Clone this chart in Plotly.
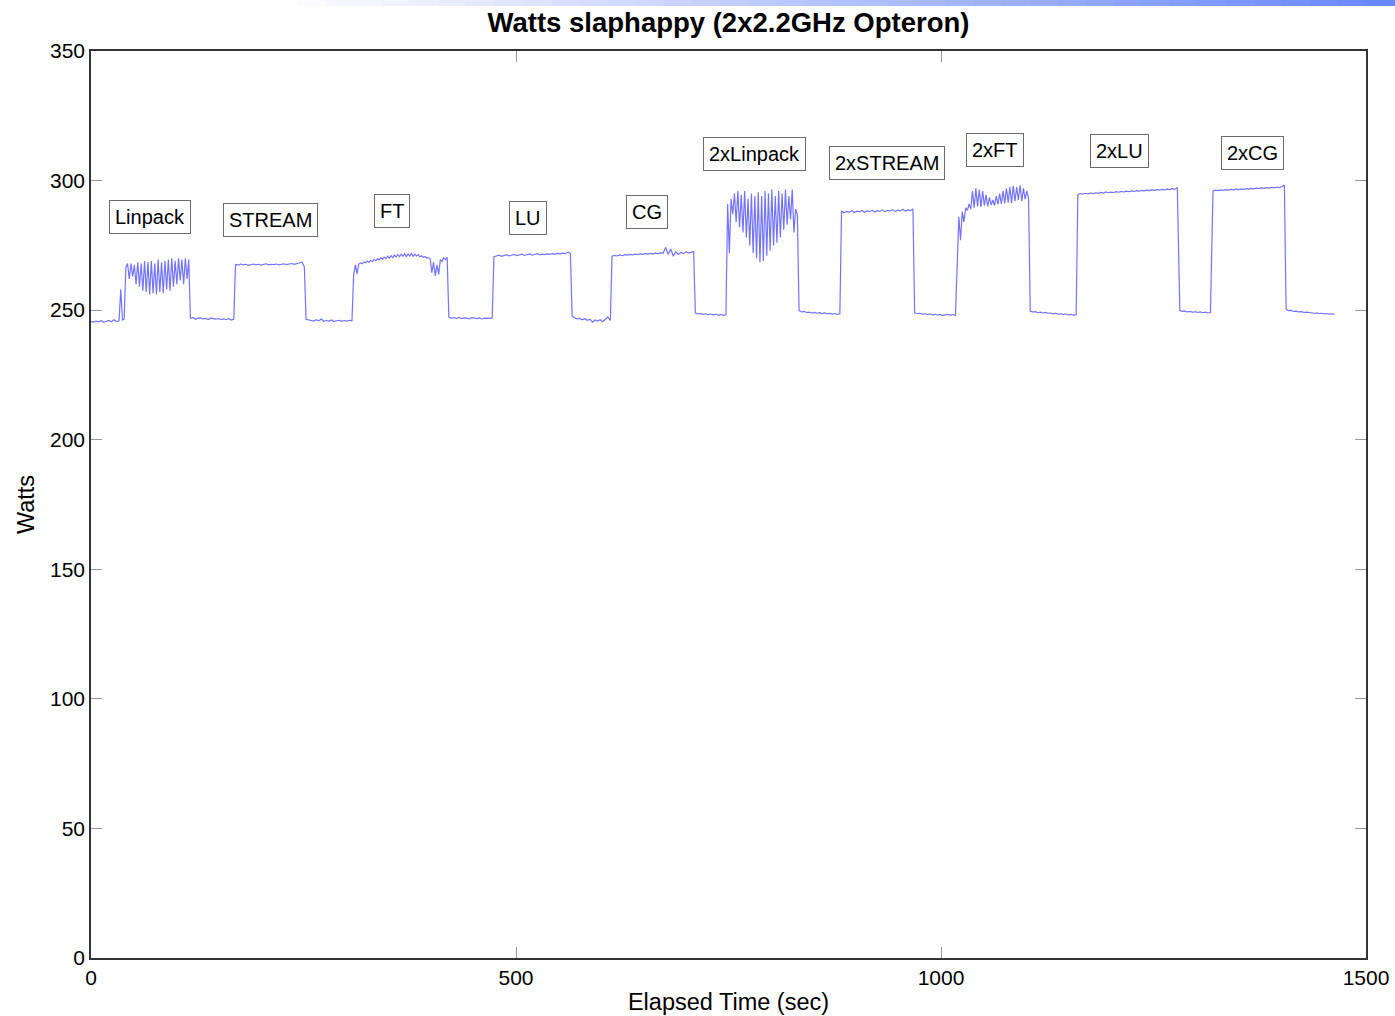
import plotly.graph_objects as go

# ---- data: power samples per phase (start time s, sample step s, watts) ----
idle0_start, idle0_step = 0, 3
idle0 = [245.6, 245.4, 245.8, 245.5, 245.9, 245.3, 245.7, 246.0, 245.5, 246.3, 245.6, 245.8]

linpack_start, linpack_step = 35, 2
linpack = [258, 246.2, 246.5,
           266.5, 268, 262, 268, 263, 267.5, 260, 268.5, 259, 268, 257.5, 269, 257, 268.5, 256,
           269, 256.5, 268, 256, 269.5, 257, 268.5, 256.5, 269, 258, 269.5, 257.5, 270, 259,
           269, 260, 270, 261.5, 269.5, 260, 270, 262, 269.5]

idle1_start, idle1_step = 117, 3
idle1 = [246.8, 247.2, 246.5, 246.9, 247.0, 246.6, 246.8, 246.4, 246.9, 246.7, 246.5, 246.8,
         246.3, 246.6, 246.4, 246.7, 246.2, 246.5]

stream_start, stream_step = 170, 3
stream = [267.6, 267.4, 267.8, 267.5, 267.7, 267.3, 267.6, 267.8, 267.5, 267.7, 267.4, 267.6,
          267.9, 267.5, 267.7, 267.6, 267.8, 267.5, 267.7, 267.9, 267.6, 267.8, 268.0, 267.7,
          267.9, 268.2, 268.6, 266.8]

idle2_start, idle2_step = 253, 3
idle2 = [246.5, 246.2, 246.0, 245.8, 246.3, 245.9, 246.6, 245.7, 246.0, 245.8, 246.2, 245.6,
         245.9, 246.1, 245.7, 246.0, 245.8, 246.1, 245.9]

ft_start, ft_step = 309, 2
ft = [263.5, 267.5, 264, 267.8, 268.2, 267.9, 268.6, 268.3, 268.9, 268.5, 269.2, 268.8, 269.5,
      269.1, 269.8, 269.4, 270.2, 269.6, 270.5, 269.9, 270.8, 270.1, 271.0, 270.3, 271.3, 270.5,
      271.5, 270.6, 271.6, 270.8, 271.8, 270.7, 271.7, 270.9, 271.9, 270.8, 271.6, 270.9, 271.4,
      270.6, 271.0, 270.4, 270.7, 270.1, 270.3, 269.8, 264.5, 268.5, 263.2, 267.5, 263.8, 269.5,
      268.8, 270.2, 269.5, 270.4]

idle3_start, idle3_step = 421, 3
idle3 = [247.3, 246.9, 247.1, 246.8, 247.2, 246.7, 247.0, 246.9, 246.6, 247.1, 246.8, 246.7,
         247.0, 246.6, 246.9, 246.7, 246.8, 247.0]

lu_start, lu_step = 474, 3
lu = [270.6, 270.9, 271.2, 270.8, 271.1, 271.4, 270.9, 271.2, 271.5, 271.0, 271.3, 271.6, 271.1,
      271.4, 271.7, 271.2, 271.5, 271.8, 271.3, 271.6, 271.4, 271.7, 271.5, 271.8, 271.6, 271.9,
      271.7, 272.0, 271.8, 272.4, 271.9]

idle4_start, idle4_step = 566, 3
idle4 = [247.8, 247.0, 246.6, 246.8, 246.3, 246.7, 246.1, 246.5, 245.4, 246.2, 245.8, 246.3,
         245.5, 246.4, 247.4, 246.0]

cg_start, cg_step = 613, 3
cg = [270.8, 271.1, 270.9, 271.3, 271.0, 271.4, 271.2, 271.5, 271.3, 271.6, 271.4, 271.7, 271.5,
      271.8, 271.6, 271.9, 271.7, 272.0, 271.8, 272.1, 271.9, 274.2, 271.5, 273.6, 270.8, 272.6,
      271.5, 272.3, 271.8, 272.5, 272.1, 272.3, 272.6]

idle5_start, idle5_step = 711, 3
idle5 = [248.9, 248.6, 248.7, 248.4, 248.6, 248.3, 248.5, 248.2, 248.4, 248.1, 248.3, 248.0, 248.2]

linpack2_start, linpack2_step = 749, 2
linpack2 = [291, 272, 293, 287, 295, 284, 296, 282, 294.5, 280, 296, 278, 293, 275, 295, 272,
            294, 270, 295.5, 268.5, 294, 269, 296, 271, 295, 273, 296.5, 275, 294, 276, 296, 278,
            295, 281, 296.5, 283, 294, 285, 296.5, 280, 289, 287]

idle6_start, idle6_step = 833, 3
idle6 = [249.8, 249.3, 249.5, 249.1, 249.2, 248.9, 249.1, 248.8, 249.0, 248.7, 248.9, 248.6,
         248.8, 248.5, 248.7, 248.4, 248.6]

stream2_start, stream2_step = 883, 3
stream2 = [288.3, 287.6, 288.1, 287.8, 288.4, 287.7, 288.2, 287.9, 288.5, 287.8, 288.3, 288.0,
           288.6, 287.9, 288.4, 288.1, 288.7, 288.0, 288.5, 288.2, 288.8, 288.1, 288.6, 288.3,
           288.9, 288.2, 288.7, 288.4, 289.0]

idle7_start, idle7_step = 969, 3
idle7 = [249.0, 248.7, 248.8, 248.5, 248.6, 248.3, 248.5, 248.2, 248.4, 248.1, 248.3, 248.0,
         248.2, 248.4, 248.1, 248.3, 248.0]

ft2_start, ft2_step = 1021, 2
ft2 = [286, 277, 288, 284, 289.5, 288.5, 291, 289, 296, 289.5, 297, 290, 296.5, 289.8, 296, 290.3,
       294.5, 290, 293.5, 290.6, 292.5, 290.4, 294, 290.8, 295, 291, 296, 291.2, 297, 291.5,
       297.5, 291.3, 298, 292, 297.5, 292.5, 298.2, 292, 297, 292.8, 296, 293]

idle8_start, idle8_step = 1105, 3
idle8 = [249.6, 249.3, 249.4, 249.0, 249.2, 248.9, 249.1, 248.8, 248.9, 248.6, 248.8, 248.5,
         248.6, 248.3, 248.5, 248.2, 248.4, 248.0, 248.3]

lu2_start, lu2_step = 1161, 3
lu2 = [294.6, 295.0, 294.8, 295.1, 294.9, 295.2, 295.0, 295.3, 295.1, 295.4, 295.2, 295.6, 295.3,
       295.5, 295.4, 295.7, 295.5, 295.8, 295.6, 295.9, 295.7, 296.0, 295.8, 296.1, 295.9, 296.2,
       296.0, 296.3, 296.1, 296.4, 296.2, 296.5, 296.3, 296.6, 296.4, 296.7, 296.5, 296.9, 296.6,
       297.3]

idle9_start, idle9_step = 1281, 3
idle9 = [249.8, 249.5, 249.6, 249.3, 249.5, 249.2, 249.4, 249.1, 249.3, 249.0, 249.2, 248.9, 249.1]

cg2_start, cg2_step = 1320, 3
cg2 = [296.0, 296.3, 296.1, 296.4, 296.2, 296.5, 296.3, 296.6, 296.4, 296.7, 296.5, 296.8, 296.6,
       296.9, 296.7, 297.0, 296.8, 297.1, 296.9, 297.2, 297.0, 297.3, 297.1, 297.4, 297.2, 297.5,
       297.3, 297.6, 298.3]

idle10_start, idle10_step = 1406, 3
idle10 = [250.3, 249.8, 249.9, 249.5, 249.6, 249.3, 249.4, 249.1, 249.2, 249.0, 249.1, 248.8,
          248.9, 248.7, 248.8, 248.6, 248.7, 248.5, 248.6, 248.4]

# ---- benchmark labels ----
label_text = ["Linpack", "STREAM", "FT", "LU", "CG",
              "2xLinpack", "2xSTREAM", "2xFT", "2xLU", "2xCG"]
label_time = [69, 211, 354, 514, 654, 781, 937, 1063, 1210, 1367]
label_watts = [286.0, 284.8, 288.3, 285.6, 287.9, 310.3, 306.8, 311.8, 311.4, 310.6]

phases = [
    (idle0_start, idle0_step, idle0), (linpack_start, linpack_step, linpack),
    (idle1_start, idle1_step, idle1), (stream_start, stream_step, stream),
    (idle2_start, idle2_step, idle2), (ft_start, ft_step, ft),
    (idle3_start, idle3_step, idle3), (lu_start, lu_step, lu),
    (idle4_start, idle4_step, idle4), (cg_start, cg_step, cg),
    (idle5_start, idle5_step, idle5), (linpack2_start, linpack2_step, linpack2),
    (idle6_start, idle6_step, idle6), (stream2_start, stream2_step, stream2),
    (idle7_start, idle7_step, idle7), (ft2_start, ft2_step, ft2),
    (idle8_start, idle8_step, idle8), (lu2_start, lu2_step, lu2),
    (idle9_start, idle9_step, idle9), (cg2_start, cg2_step, cg2),
    (idle10_start, idle10_step, idle10),
]

times, watts = [], []
for start, step, vals in phases:
    for i, v in enumerate(vals):
        times.append(start + i * step)
        watts.append(v)

FONT = "Liberation Sans, Arial, Helvetica, sans-serif"
FIG_W, FIG_H = 1395, 1016
ML, MR, MT, MB = 91, 29, 51, 58
PLOT_H = FIG_H - MT - MB
PLOT_W = FIG_W - ML - MR

fig = go.Figure()
fig.add_trace(go.Scatter(x=times, y=watts, mode="lines",
                         line=dict(color="rgba(80,80,255,0.8)", width=1.2),
                         showlegend=False, hoverinfo="skip"))

for txt, t, w in zip(label_text, label_time, label_watts):
    fig.add_annotation(x=t, y=w, xref="x", yref="y", text=txt, showarrow=False,
                       xanchor="center", yanchor="middle",
                       font=dict(family=FONT, size=20, color="black"),
                       bgcolor="white", bordercolor="#6a6a6a", borderwidth=1, borderpad=5)

# decorative slide gradient bar at the very top
n_steps = 40
x0_px, x1_px = 270, 1395
for k in range(n_steps):
    a = k / (n_steps - 1)
    r = int(255 - a * (255 - 105))
    g = int(255 - a * (255 - 135))
    b = 255
    xa = (x0_px + (x1_px - x0_px) * k / n_steps - ML) / PLOT_W
    xb = (x0_px + (x1_px - x0_px) * (k + 1) / n_steps - ML) / PLOT_W + 0.0005
    fig.add_shape(type="rect", xref="paper", yref="paper", x0=xa, x1=xb,
                  y0=(PLOT_H + MT - 6) / PLOT_H, y1=(PLOT_H + MT) / PLOT_H + 0.01,
                  line=dict(width=0), fillcolor=f"rgb({r},{g},{b})", layer="above")

fig.update_layout(
    width=FIG_W, height=FIG_H,
    margin=dict(l=ML, r=MR, t=MT, b=MB, autoexpand=False),
    paper_bgcolor="white", plot_bgcolor="white",
    title=dict(text="<b>Watts slaphappy (2x2.2GHz Opteron)</b>", x=728.5 / FIG_W,
               xanchor="center", y=1 - 22 / FIG_H, yanchor="middle",
               font=dict(family=FONT, size=27.5, color="black")),
    font=dict(family=FONT, color="black"),
)

fig.update_xaxes(range=[0, 1500], tickvals=[0, 500, 1000, 1500], ticks="inside", ticklen=11,
                 tickcolor="#999", showline=True, linecolor="#333", linewidth=1.5, mirror="ticks",
                 showgrid=False, zeroline=False, tickfont=dict(size=21, family=FONT),
                 automargin=False,
                 title=dict(text="Elapsed Time (sec)", font=dict(size=23.5, family=FONT), standoff=6))
fig.update_yaxes(range=[0, 350], tickvals=[0, 50, 100, 150, 200, 250, 300, 350], ticks="inside",
                 ticklen=11, tickcolor="#999", showline=True, linecolor="#333", linewidth=1.5,
                 mirror="ticks", showgrid=False, zeroline=False, tickfont=dict(size=21, family=FONT),
                 automargin=False,
                 title=dict(text="Watts", font=dict(size=23.5, family=FONT), standoff=9))

fig.write_html("out.html", config={"displayModeBar": False},
               post_script="document.documentElement.style.overflow='hidden';"
                           "document.body.style.margin='0';document.body.style.overflow='hidden';")
